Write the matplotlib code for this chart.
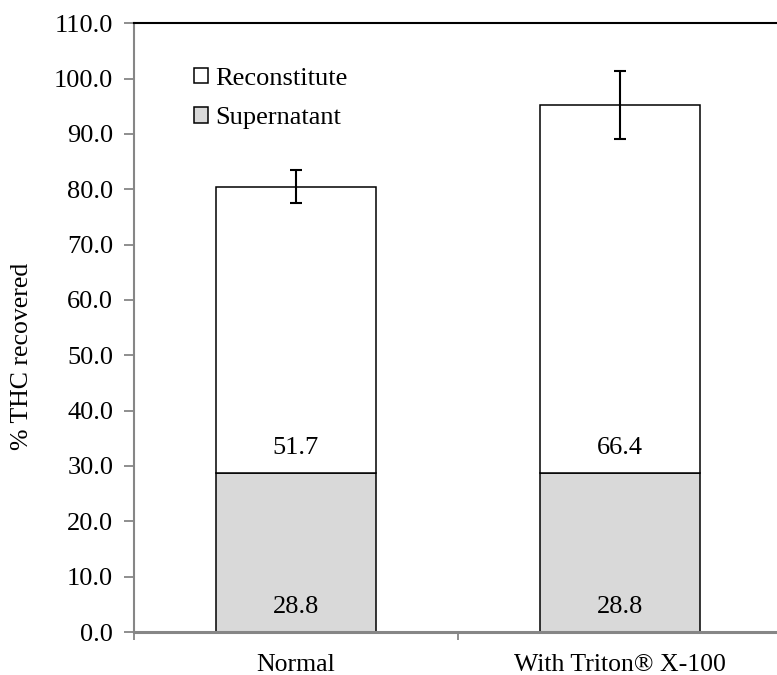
import numpy as np
import matplotlib
matplotlib.use("Agg")
import matplotlib.pyplot as plt

plt.rcParams['font.family'] = ['Liberation Serif', 'DejaVu Serif']

# data
categories = ["Normal", "With Triton® X-100"]
supernatant = [28.8, 28.8]
reconstitute = [51.7, 66.4]
total_err = [2.9, 6.1]

gray = "#868686"

fig = plt.figure(figsize=(7.77, 6.75), dpi=100)
ax = fig.add_axes([0.1725, 0.0637, 0.8333, 0.9018])

x = np.arange(len(categories))
width = 0.495
totals = np.array(supernatant) + np.array(reconstitute)

b1 = ax.bar(x, supernatant, width, color="#d9d9d9", edgecolor="black",
            linewidth=1.1, label="Supernatant", zorder=2)
b2 = ax.bar(x, reconstitute, width, bottom=supernatant, color="white",
            edgecolor="black", linewidth=1.1, label="Reconstitute", zorder=2)
ax.errorbar(x, totals, yerr=total_err, fmt="none", ecolor="black",
            elinewidth=1.5, capsize=4.5, capthick=1.5, zorder=3)

# value labels near the base of each segment
for xi, s, r in zip(x, supernatant, reconstitute):
    ax.annotate(f"{s:.1f}", (xi, 0), xytext=(0, 18), textcoords="offset points",
                ha="center", va="center", fontsize=19)
    ax.annotate(f"{r:.1f}", (xi, s), xytext=(0, 18), textcoords="offset points",
                ha="center", va="center", fontsize=19)

ax.set_ylim(0, 110)
ax.set_yticks(np.arange(0, 111, 10))
ax.set_yticklabels([f"{v:.1f}" for v in np.arange(0, 111, 10)])
ax.set_xlim(-0.5, 1.5)
ax.set_xticks(x)
ax.set_xticklabels(categories)
ax.set_xticks([-0.5, 0.5, 1.5], minor=True)
ax.tick_params(axis="x", which="major", length=0, pad=16, labelsize=18.5)
ax.tick_params(axis="x", which="minor", length=6, width=1.3, color=gray, direction="out")
ax.tick_params(axis="y", length=7, width=1.3, color=gray, direction="out", pad=8,
               labelsize=19)

ax.set_ylabel("% THC recovered", fontsize=18.5)
ax.yaxis.set_label_coords(-0.156, 0.453)

ax.spines["left"].set_color(gray)
ax.spines["bottom"].set_color(gray)
ax.spines["left"].set_linewidth(1.5)
ax.spines["bottom"].set_linewidth(2.2)
ax.spines["top"].set_color("black")
ax.spines["top"].set_linewidth(1.5)
ax.spines["right"].set_visible(False)

ax.legend([b2, b1], ["Reconstitute", "Supernatant"], loc="upper left",
          bbox_to_anchor=(0.0927, 0.927), frameon=False, fontsize=19,
          handlelength=0.53, handleheight=0.53, handletextpad=0.27,
          labelspacing=0.65, borderpad=0, borderaxespad=0)

fig.savefig("out.png", dpi=100)
